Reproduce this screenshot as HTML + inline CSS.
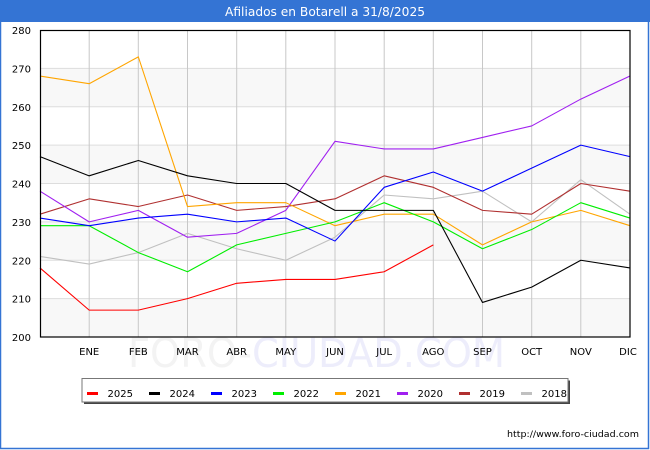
<!DOCTYPE html>
<html><head><meta charset="utf-8"><style>
html,body{margin:0;padding:0;background:#fff;}
svg{display:block;}
text{font-family:"DejaVu Sans","Liberation Sans",sans-serif;}
</style></head><body>
<svg width="650" height="450" viewBox="0 0 650 450" xmlns="http://www.w3.org/2000/svg">
<rect x="0" y="0" width="650" height="450" fill="#fff"/>
<rect x="0.5" y="0.5" width="648" height="448" fill="none" stroke="#3474d4" stroke-width="1.5"/>
<rect x="0" y="0" width="650" height="22" fill="#3474d4"/>
<text x="325" y="16" font-size="12" fill="#fff" text-anchor="middle" textLength="200" lengthAdjust="spacingAndGlyphs">Afiliados en Botarell a 31/8/2025</text>

<!-- watermark -->
<text x="128" y="367" font-size="40" textLength="377" lengthAdjust="spacingAndGlyphs"><tspan fill="#f3f3f3">FORO-</tspan><tspan fill="#ededfb">CIUDAD.COM</tspan></text>

<!-- bands -->
<rect x="40" y="68.4" width="590" height="38.4" fill="#f8f8f8"/>
<rect x="40" y="145.1" width="590" height="38.4" fill="#f8f8f8"/>
<rect x="40" y="221.9" width="590" height="38.4" fill="#f8f8f8"/>
<rect x="40" y="298.6" width="590" height="38.4" fill="#f8f8f8"/>

<!-- horizontal grid -->
<g stroke="#dddddd" stroke-width="1">
<line x1="40" x2="630" y1="68.4" y2="68.4"/>
<line x1="40" x2="630" y1="106.8" y2="106.8"/>
<line x1="40" x2="630" y1="145.1" y2="145.1"/>
<line x1="40" x2="630" y1="183.5" y2="183.5"/>
<line x1="40" x2="630" y1="221.9" y2="221.9"/>
<line x1="40" x2="630" y1="260.3" y2="260.3"/>
<line x1="40" x2="630" y1="298.6" y2="298.6"/>
</g>
<!-- vertical grid -->
<g stroke="#c8c8c8" stroke-width="1">
<line x1="89.2" x2="89.2" y1="30" y2="337"/>
<line x1="138.3" x2="138.3" y1="30" y2="337"/>
<line x1="187.5" x2="187.5" y1="30" y2="337"/>
<line x1="236.7" x2="236.7" y1="30" y2="337"/>
<line x1="285.8" x2="285.8" y1="30" y2="337"/>
<line x1="335" x2="335" y1="30" y2="337"/>
<line x1="384.2" x2="384.2" y1="30" y2="337"/>
<line x1="433.3" x2="433.3" y1="30" y2="337"/>
<line x1="482.5" x2="482.5" y1="30" y2="337"/>
<line x1="531.7" x2="531.7" y1="30" y2="337"/>
<line x1="580.8" x2="580.8" y1="30" y2="337"/>
</g>

<!-- series -->
<g transform="translate(40,30) scale(49.1667,-3.8375) translate(0,-280)" fill="none" stroke-width="1.1" stroke-linejoin="round">
<polyline vector-effect="non-scaling-stroke" stroke="#c0c0c0" points="0,221 1,219 2,222 3,227 4,223 5,220 6,226 7,237 8,236 9,238 10,230 11,241 12,232"/>
<polyline vector-effect="non-scaling-stroke" stroke="#b03030" points="0,232 1,236 2,234 3,237 4,233 5,234 6,236 7,242 8,239 9,233 10,232 11,240 12,238"/>
<polyline vector-effect="non-scaling-stroke" stroke="#a020f0" points="0,238 1,230 2,233 3,226 4,227 5,233 6,251 7,249 8,249 9,252 10,255 11,262 12,268"/>
<polyline vector-effect="non-scaling-stroke" stroke="#ffa500" points="0,268 1,266 2,273 3,234 4,235 5,235 6,229 7,232 8,232 9,224 10,230 11,233 12,229"/>
<polyline vector-effect="non-scaling-stroke" stroke="#00ee00" points="0,229 1,229 2,222 3,217 4,224 5,227 6,230 7,235 8,230 9,223 10,228 11,235 12,231"/>
<polyline vector-effect="non-scaling-stroke" stroke="#0000ff" points="0,231 1,229 2,231 3,232 4,230 5,231 6,225 7,239 8,243 9,238 10,244 11,250 12,247"/>
<polyline vector-effect="non-scaling-stroke" stroke="#000000" points="0,247 1,242 2,246 3,242 4,240 5,240 6,233 7,233 8,233 9,209 10,213 11,220 12,218"/>
<polyline vector-effect="non-scaling-stroke" stroke="#ff0000" points="0,218 1,207 2,207 3,210 4,214 5,215 6,215 7,217 8,224"/>
</g>

<!-- plot border -->
<rect x="40.5" y="30.5" width="589.5" height="306.5" fill="none" stroke="#000" stroke-width="1.2"/>

<!-- y labels -->
<g font-size="10" fill="#000" text-anchor="end">
<text x="31" y="34">280</text>
<text x="31" y="72.4">270</text>
<text x="31" y="110.8">260</text>
<text x="31" y="149.1">250</text>
<text x="31" y="187.5">240</text>
<text x="31" y="225.9">230</text>
<text x="31" y="264.3">220</text>
<text x="31" y="302.6">210</text>
<text x="31" y="341">200</text>
</g>
<!-- x labels -->
<g font-size="10" fill="#000" text-anchor="middle">
<text x="89.2" y="355">ENE</text>
<text x="138.3" y="355">FEB</text>
<text x="187.5" y="355">MAR</text>
<text x="236.7" y="355">ABR</text>
<text x="285.8" y="355">MAY</text>
<text x="335" y="355">JUN</text>
<text x="384.2" y="355">JUL</text>
<text x="433.3" y="355">AGO</text>
<text x="482.5" y="355">SEP</text>
<text x="531.7" y="355">OCT</text>
<text x="580.8" y="355">NOV</text>
<text x="628" y="355">DIC</text>
</g>

<!-- legend -->
<rect x="84" y="380.5" width="486" height="23.5" fill="#444"/>
<rect x="82" y="378.5" width="486" height="23.5" fill="#fff" stroke="#777" stroke-width="1"/>
<g stroke-width="3">
<line x1="87" x2="98" y1="393.5" y2="393.5" stroke="#ff0000"/>
<line x1="149" x2="160" y1="393.5" y2="393.5" stroke="#000000"/>
<line x1="211" x2="222" y1="393.5" y2="393.5" stroke="#0000ff"/>
<line x1="273" x2="284" y1="393.5" y2="393.5" stroke="#00ee00"/>
<line x1="335" x2="346" y1="393.5" y2="393.5" stroke="#ffa500"/>
<line x1="397" x2="408" y1="393.5" y2="393.5" stroke="#a020f0"/>
<line x1="459" x2="470" y1="393.5" y2="393.5" stroke="#b03030"/>
<line x1="521" x2="532" y1="393.5" y2="393.5" stroke="#c0c0c0"/>
</g>
<g font-size="10" fill="#000">
<text x="107.5" y="397">2025</text>
<text x="169.5" y="397">2024</text>
<text x="231.5" y="397">2023</text>
<text x="293.5" y="397">2022</text>
<text x="355.5" y="397">2021</text>
<text x="417.5" y="397">2020</text>
<text x="479.5" y="397">2019</text>
<text x="541.5" y="397">2018</text>
</g>

<text x="639" y="437" font-size="9" fill="#000" text-anchor="end" textLength="132" lengthAdjust="spacingAndGlyphs">http://www.foro-ciudad.com</text>
</svg>
</body></html>
